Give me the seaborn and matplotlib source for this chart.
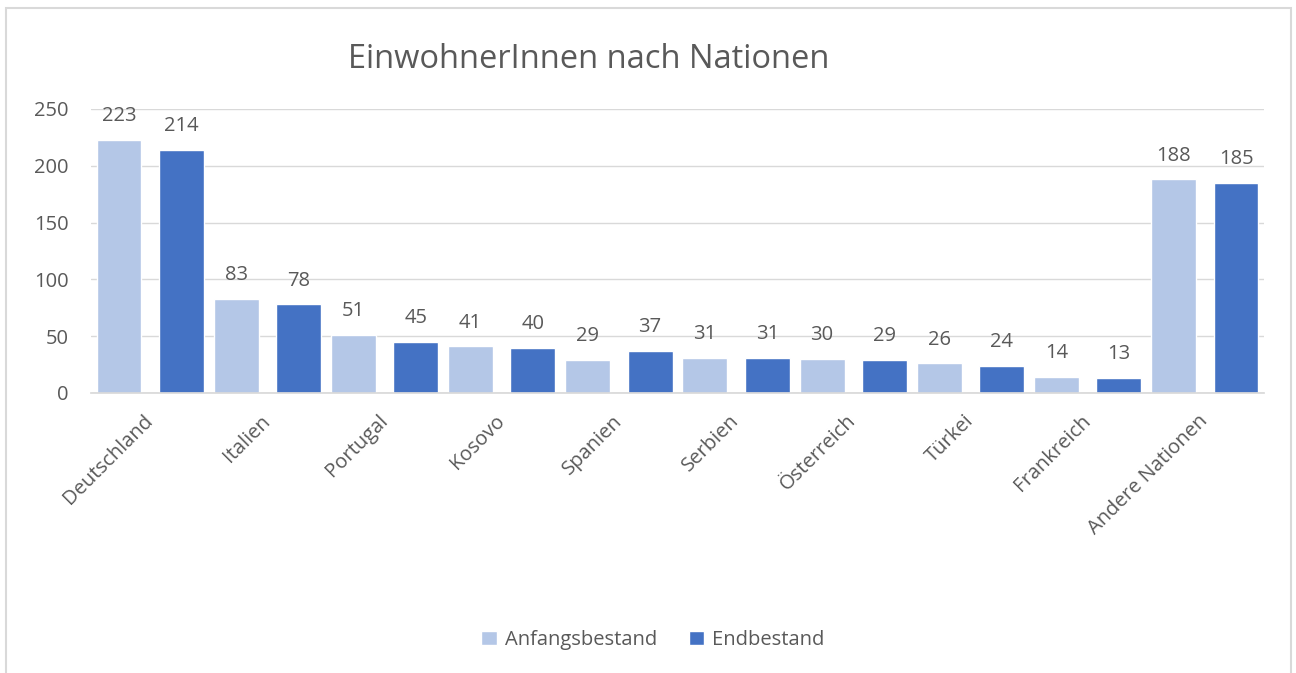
import pandas as pd
import matplotlib.pyplot as plt
import matplotlib.transforms as mtransforms
import seaborn as sns
from matplotlib.patches import Rectangle

nationen = ['Deutschland', 'Italien', 'Portugal', 'Kosovo', 'Spanien', 'Serbien',
            'Österreich', 'Türkei', 'Frankreich', 'Andere Nationen']
anfangsbestand = [223, 83, 51, 41, 29, 31, 30, 26, 14, 188]
endbestand = [214, 78, 45, 40, 37, 31, 29, 24, 13, 185]
serien = ['Anfangsbestand', 'Endbestand']
farben = ['#B4C7E7', '#4472C4']

grau = '#595959'

df = pd.DataFrame({'Nation': nationen * 2,
                   'Bestand': serien[0:1] * len(nationen) + serien[1:2] * len(nationen),
                   'Wert': anfangsbestand + endbestand})

sns.set_theme(style='white')
plt.rcParams['font.family'] = ['Open Sans', 'DejaVu Sans']

fig = plt.figure(figsize=(12.96, 6.73), dpi=100)
ax = fig.add_axes([91 / 1296, 1 - 393 / 673, (1264 - 91) / 1296, (393 - 109) / 673])

sns.barplot(data=df, x='Nation', y='Wert', hue='Bestand', palette=farben,
            width=1.064, gap=0.28, saturation=1, ax=ax, legend=True)

for c in ax.containers:
    ax.bar_label(c, padding=10, fontsize=14.5, color=grau)

ax.set_ylim(0, 250)
ax.set_xlim(-0.505, 9.505)
ax.set_yticks(range(0, 251, 50))
ax.yaxis.grid(True, color='#D9D9D9', linewidth=1)
ax.set_axisbelow(True)
for s in ['top', 'right', 'left']:
    ax.spines[s].set_visible(False)
ax.spines['bottom'].set_color('#D9D9D9')
ax.tick_params(axis='both', length=0, labelsize=14.5, labelcolor=grau)
ax.tick_params(axis='y', pad=16)
ax.tick_params(axis='x', pad=10)
ax.set_xlabel('')
ax.set_ylabel('')
# labels sit a bit further down-left in the original
versatz = mtransforms.ScaledTranslation(-5 / 72, -3 / 72, fig.dpi_scale_trans)
for lbl in ax.get_xticklabels():
    lbl.set_rotation(45)
    lbl.set_ha('right')
    lbl.set_rotation_mode('anchor')
    lbl.set_transform(lbl.get_transform() + versatz)

ax.legend(loc='center', bbox_to_anchor=(653 / 1296, 1 - 640 / 673),
          bbox_transform=fig.transFigure, ncol=2, frameon=False, fontsize=14.5,
          labelcolor=grau, handlelength=0.75, handleheight=0.75, columnspacing=1.6,
          handletextpad=0.4)

fig.text(589 / 1296, 1 - 59 / 673, 'EinwohnerInnen nach Nationen', ha='center',
         va='center', fontsize=23.5, color=grau)

fig.patches.append(Rectangle((6 / 1296, -0.05), 1285 / 1296, 1.05 - 8 / 673,
                             transform=fig.transFigure, fill=False,
                             edgecolor='#D9D9D9', linewidth=1.5))

fig.savefig('out.png', dpi=100)
